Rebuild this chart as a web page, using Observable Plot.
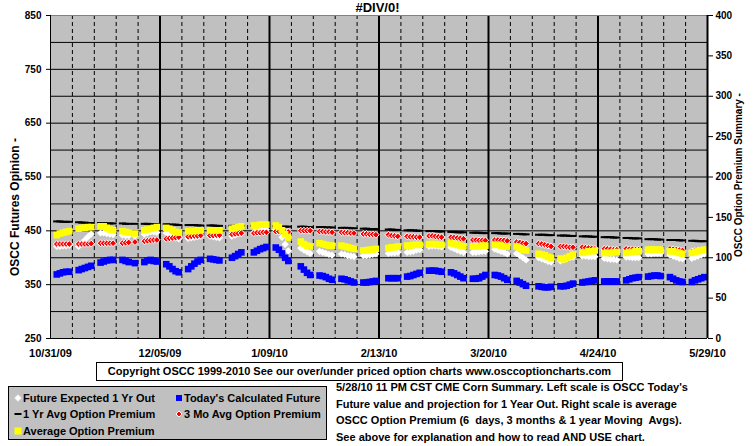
<!DOCTYPE html>
<html><head><meta charset="utf-8">
<script src="https://cdn.jsdelivr.net/npm/d3@7"></script>
<script src="https://cdn.jsdelivr.net/npm/@observablehq/plot@0.6"></script>
<style>
body{margin:0;background:#fff;font-family:Arial,"Liberation Sans",sans-serif;font-weight:bold;color:#000;}
#wrap{position:relative;width:755px;height:446px;overflow:hidden;background:#fff;}
#chart{position:absolute;left:0;top:0;}
.abs{position:absolute;white-space:nowrap;}
#title{left:0;top:0;width:755px;text-align:center;font-size:13px;line-height:15px;}
.rot{width:240px;text-align:center;height:14px;line-height:14px;transform:rotate(-90deg);transform-origin:50% 50%;}
#ltitle{left:-105px;top:200px;font-size:12px;}
#rtitle{left:619px;top:168px;font-size:10px;}
#copy{left:96px;top:362px;width:527px;height:19px;box-sizing:border-box;border:1px solid #000;background:#fff;font-size:11px;line-height:17px;text-align:center;}
#legend{left:8px;top:386px;width:319px;height:54px;box-sizing:border-box;border:1px solid #000;background:#C0C0C0;font-size:11px;}
.li{position:absolute;height:14px;line-height:14px;white-space:nowrap;}
.li svg{position:absolute;left:-9px;top:3px;}
#note{left:336px;top:379px;font-size:11px;line-height:16.6px;}
</style></head><body>
<div id="wrap">
  <div id="chart"></div>
  <div class="abs" id="title">#DIV/0!</div>
  <div class="abs rot" id="ltitle">OSCC Futures Opinion -</div>
  <div class="abs rot" id="rtitle">OSCC Option Premium Summary -</div>
  <div class="abs" id="copy">Copyright OSCC 1999-2010 See our over/under priced option charts www.osccoptioncharts.com</div>
  <div class="abs" id="legend"></div>
  <div class="abs" id="note">5/28/10 11 PM CST CME Corn Summary. Left scale is OSCC Today's<br>Future value and projection for 1 Year Out. Right scale is average<br>OSCC Option Premium (6&nbsp; days, 3 months &amp; 1 year Moving&nbsp; Avgs).<br>See above for explanation and how to read AND USE chart.</div>
</div>
<script>
// ---- trading days (one line per week) ----
const dates = [
 "2009-11-02","2009-11-03","2009-11-04","2009-11-05","2009-11-06",
 "2009-11-09","2009-11-10","2009-11-11","2009-11-12","2009-11-13",
 "2009-11-16","2009-11-17","2009-11-18","2009-11-19","2009-11-20",
 "2009-11-23","2009-11-24","2009-11-25","2009-11-27",
 "2009-11-30","2009-12-01","2009-12-02","2009-12-03","2009-12-04",
 "2009-12-07","2009-12-08","2009-12-09","2009-12-10","2009-12-11",
 "2009-12-14","2009-12-15","2009-12-16","2009-12-17","2009-12-18",
 "2009-12-21","2009-12-22","2009-12-23","2009-12-24",
 "2009-12-28","2009-12-29","2009-12-30","2009-12-31",
 "2010-01-04","2010-01-05","2010-01-06","2010-01-07","2010-01-08",
 "2010-01-11","2010-01-12","2010-01-13","2010-01-14","2010-01-15",
 "2010-01-19","2010-01-20","2010-01-21","2010-01-22",
 "2010-01-25","2010-01-26","2010-01-27","2010-01-28","2010-01-29",
 "2010-02-01","2010-02-02","2010-02-03","2010-02-04","2010-02-05",
 "2010-02-08","2010-02-09","2010-02-10","2010-02-11","2010-02-12",
 "2010-02-16","2010-02-17","2010-02-18","2010-02-19",
 "2010-02-22","2010-02-23","2010-02-24","2010-02-25","2010-02-26",
 "2010-03-01","2010-03-02","2010-03-03","2010-03-04","2010-03-05",
 "2010-03-08","2010-03-09","2010-03-10","2010-03-11","2010-03-12",
 "2010-03-15","2010-03-16","2010-03-17","2010-03-18","2010-03-19",
 "2010-03-22","2010-03-23","2010-03-24","2010-03-25","2010-03-26",
 "2010-03-29","2010-03-30","2010-03-31","2010-04-01",
 "2010-04-05","2010-04-06","2010-04-07","2010-04-08","2010-04-09",
 "2010-04-12","2010-04-13","2010-04-14","2010-04-15","2010-04-16",
 "2010-04-19","2010-04-20","2010-04-21","2010-04-22","2010-04-23",
 "2010-04-26","2010-04-27","2010-04-28","2010-04-29","2010-04-30",
 "2010-05-03","2010-05-04","2010-05-05","2010-05-06","2010-05-07",
 "2010-05-10","2010-05-11","2010-05-12","2010-05-13","2010-05-14",
 "2010-05-17","2010-05-18","2010-05-19","2010-05-20","2010-05-21",
 "2010-05-24","2010-05-25","2010-05-26","2010-05-27","2010-05-28"
];
// Future Expected 1 Yr Out (left scale)
const futureExpected1Yr = [
 421,421,422,422,423, 421,427,433,439,444, 446,446,445,444,443, 442,441,441,440,
 444,446,448,448,447, 446,443,440,437,435, 436,437,438,439,440, 440,439,438,437,
 440,442,444,445, 447,449,451,452,452, 452,448,438,425,413, 418,414,411,408,
 412,410,408,406,405, 407,406,404,403,402, 404,404,405,406,407, 408,409,409,410,
 410,411,412,414,415, 421,422,422,421,420, 419,417,414,412,410, 410,410,411,412,412,
 416,414,412,410,407, 408,404,400,396, 400,398,396,393,392, 394,396,398,400,401,
 403,403,402,402,402, 399,398,397,397,396, 401,401,400,400,400, 407,407,408,408,408,
 405,403,401,399,398, 399,401,403,405,407
];
// Today's Calculated Future (left scale)
const todaysFuture = [
 369,371,373,374,374, 377,379,381,383,385, 391,393,395,396,396, 396,394,392,390,
 392,395,396,394,393, 388,384,379,375,373, 379,384,389,393,396, 398,397,396,395,
 400,403,407,410, 410,413,416,418,420, 419,415,408,400,394, 384,378,372,368,
 367,366,364,361,359, 361,360,358,356,354, 354,354,355,356,357, 362,362,362,362,
 365,366,368,370,372, 376,376,376,375,374, 373,371,368,365,362, 361,361,362,365,368,
 368,367,365,362,359, 357,354,351,348, 347,346,345,345,346, 347,347,348,350,352,
 354,355,356,357,358, 356,356,356,356,356, 358,360,362,363,364, 365,366,367,367,366,
 364,361,358,356,355, 355,358,360,362,364
];
// 1 Yr Avg Option Premium (right scale)
const oneYrAvgPremium = [
 145,145,144.5,144.5,144.5, 144,143.5,143.5,143,143, 143,143,142.5,142.5,142.5, 142.5,142,142,142,
 142,142,141.5,141.5,141.5, 141.5,141,141,141,140.5, 140.5,140.5,140.5,140,140, 140,140,139.5,139.5,
 139.5,139.5,139.5,139.5, 139.5,139,139,139,139, 139,139,138.5,138.5,138.5, 138.5,138.5,138,138,
 138,138,137.5,137.5,137.5, 137,137,137,136.5,136.5, 136,136,135.5,135.5,135.5, 135,135,134.5,134.5,
 134,134,134,133.5,133.5, 133,133,133,132.5,132.5, 132,132,131.5,131.5,131.5, 131,131,131,130.5,130.5,
 130.5,130.5,130,130,130, 129.5,129.5,129,129, 128.5,128.5,128.5,128,128, 127.5,127.5,127.5,127,127,
 126.5,126.5,126.5,126,126, 125.5,125.5,125.5,125,125, 124.5,124.5,124,124,124, 123,123,123,122.5,122.5,
 122,122,122,121.5,121.5, 121,121,120.5,120.5,120.5
];
// 3 Mo Avg Option Premium (right scale)
const threeMoAvgPremium = [
 117,117,117,117,117, 117,117,117,117,117.5, 118,118,118,118,118, 118,118.5,119,119.5,
 120.5,121,121.5,122,122, 123.5,124,124.5,125,125.5, 126,126.5,127,127,127.5, 127.5,127.5,128,128,
 129,129.5,130,130.5, 130.5,131,131,131.5,131.5, 132.5,132.5,132.5,132,132, 133.5,133.5,133.5,133.5,
 132.5,132.5,132,132,131.5, 131.5,131,131,130.5,130.5, 129.5,129.5,129,129,128.5, 128.5,127.5,127,126.5,
 126.5,126,126,125.5,125.5, 127,127,126.5,126,125.5, 125.5,125,124.5,124,123.5, 122,122,121.5,121.5,121.5,
 122,122,121.5,121.5,121, 119.5,119,118,117.5, 117.5,117,116,115,114, 114,114,113.5,113,113,
 113,112.5,112,111.5,111, 111,111,110.5,110,110, 111,110.5,110.5,110,110, 110,110,110,110,110,
 111,110.5,110,109.5,109, 108,108.5,109,109.5,110
];
// Average Option Premium (right scale)
const avgOptionPremium = [
 128,130,131,132,133, 136,137,137,138,138, 139,139,137,135,134, 133,132,131,130,
 134,135,136,137,138, 137,136,134,132,131, 133,133,133,134,134, 134,134,134,134,
 136,137,138,139, 140,140,141,141,141, 140,138,134,129,125, 120,117,115,114,
 118,117,116,115,115, 115,114,113,112,111, 109,109,110,110,111, 112,113,113,114,
 115,115,116,116,116, 117,117,117,116,116, 118,117,116,115,114, 114,114,114,115,115,
 116,116,115,114,114, 114,112,110,109, 105,104,103,101,100, 99,98,100,102,104,
 106,107,108,108,109, 106,106,106,107,107, 106,107,107,108,108, 110,110,110,110,110,
 108,108,107,106,105, 106,107,108,109,110
];
// axes
const xDomain = ["2009-10-31", "2010-05-29"];
const xMajor = ["2009-10-31","2009-12-05","2010-01-09","2010-02-13","2010-03-20","2010-04-24","2010-05-29"];
const leftTicks = [250, 350, 450, 550, 650, 750, 850];
const leftGrid = [300, 350, 400, 450, 500, 550, 600, 650, 700, 750, 800];
const rightTicks = [0, 50, 100, 150, 200, 250, 300, 350, 400];

const parse = d3.utcParse("%Y-%m-%d");
const toLeft = v => 250 + v * 600 / 400;   // right scale 0–400 sits on left scale 250–850
const rows = dates.map((d, i) => ({
  date: parse(d),
  white: futureExpected1Yr[i],
  blue: todaysFuture[i],
  black: oneYrAvgPremium[i],
  red: threeMoAvgPremium[i],
  yellow: avgOptionPremium[i]
}));
const x0 = parse(xDomain[0]), x1 = parse(xDomain[1]);
const majors = xMajor.map(parse);
const majorSet = new Set(majors.map(d => +d));
const minors = d3.utcSaturday.range(x0, x1).filter(d => !majorSet.has(+d));

const diamond = {draw(ctx, size) { const h = Math.sqrt(size / Math.PI); ctx.moveTo(0, -h); ctx.lineTo(h, 0); ctx.lineTo(0, h); ctx.lineTo(-h, 0); ctx.closePath(); }};
const square = {draw(ctx, size) { const h = Math.sqrt(size / Math.PI); ctx.rect(-h, -h, 2 * h, 2 * h); }};
const dash = {draw(ctx, size) { const h = Math.sqrt(size / Math.PI); ctx.rect(-h, -1, 2 * h, 2); }};

const chart = Plot.plot({
  width: 755, height: 360,
  marginLeft: 50, marginRight: 48, marginTop: 15, marginBottom: 22,
  style: {fontFamily: "Arial, 'Liberation Sans', sans-serif", fontWeight: "bold", color: "#000", background: "transparent"},
  x: {type: "utc", domain: [x0, x1]},
  y: {domain: [250, 850]},
  marks: [
    Plot.frame({fill: "#C0C0C0", stroke: null}),
    Plot.ruleY(leftGrid, {stroke: "#000", strokeWidth: 1}),
    Plot.ruleX(minors, {stroke: "#000", strokeWidth: 1, strokeDasharray: "4,3"}),
    Plot.ruleX(majors.slice(1, -1), {stroke: "#000", strokeWidth: 2}),
    Plot.dot(rows, {x: "date", y: "white", symbol: diamond, r: 3.6, fill: "#FFFFFF"}),
    Plot.dot(rows, {x: "date", y: "blue", symbol: square, r: 3.3, fill: "#0000FF"}),
    Plot.dot(rows, {x: "date", y: d => toLeft(d.black), symbol: dash, r: 3.6, fill: "#000000"}),
    Plot.dot(rows, {x: "date", y: d => toLeft(d.red), symbol: diamond, r: 3.4, fill: "#FF0000", stroke: "#FFFFFF", strokeWidth: 1}),
    Plot.dot(rows, {x: "date", y: d => toLeft(d.yellow), symbol: square, r: 3.3, fill: "#FFFF00"}),
    Plot.ruleY([850], {stroke: "#808080"}),
    Plot.ruleY([250], {stroke: "#000"}),
    Plot.ruleX([x0], {stroke: "#000"}),
    Plot.ruleX([x1], {stroke: "#000", strokeWidth: 2}),
    Plot.axisY(leftTicks, {anchor: "left", tickSize: 4, tickPadding: 5, fontSize: 10, label: null}),
    Plot.axisY(rightTicks.map(toLeft), {anchor: "right", tickSize: 5, tickPadding: 3, fontSize: 10, label: null,
      tickFormat: d => String(Math.round((d - 250) * 400 / 600))}),
    Plot.axisX(majors, {tickSize: 0, tickPadding: 11, fontSize: 11, label: null, tickFormat: d3.utcFormat("%-m/%d/%y")})
  ]
});
document.getElementById("chart").appendChild(chart);

// legend
const legendItems = [
  {label: "Future Expected 1 Yr Out", col: 0, row: 0, shape: '<polygon points="4,0.5 7.5,4 4,7.5 0.5,4" fill="#fff" stroke="#E0E0E0" stroke-width="0.6"/>'},
  {label: "Today's Calculated Future", col: 1, row: 0, shape: '<rect x="1" y="1" width="6" height="6" fill="#0000FF"/>'},
  {label: "1 Yr Avg Option Premium", col: 0, row: 1, shape: '<rect x="0.5" y="3" width="7" height="2" fill="#000"/>'},
  {label: "3 Mo Avg Option Premium", col: 1, row: 1, shape: '<polygon points="4,1 7,4 4,7 1,4" fill="#FF0000" stroke="#fff" stroke-width="1"/>'},
  {label: "Average Option Premium", col: 0, row: 2, shape: '<rect x="0.5" y="0.5" width="7" height="7" fill="#FFFF00"/>'}
];
const lg = document.getElementById("legend");
const colX = [14, 175], rowY = [3.5, 19.5, 36.5];
for (const it of legendItems) {
  const el = document.createElement("div");
  el.className = "li";
  el.style.left = colX[it.col] + "px";
  el.style.top = rowY[it.row] + "px";
  el.innerHTML = '<svg width="8" height="8" viewBox="0 0 8 8">' + it.shape + '</svg>' + it.label;
  lg.appendChild(el);
}
</script>
</body></html>
